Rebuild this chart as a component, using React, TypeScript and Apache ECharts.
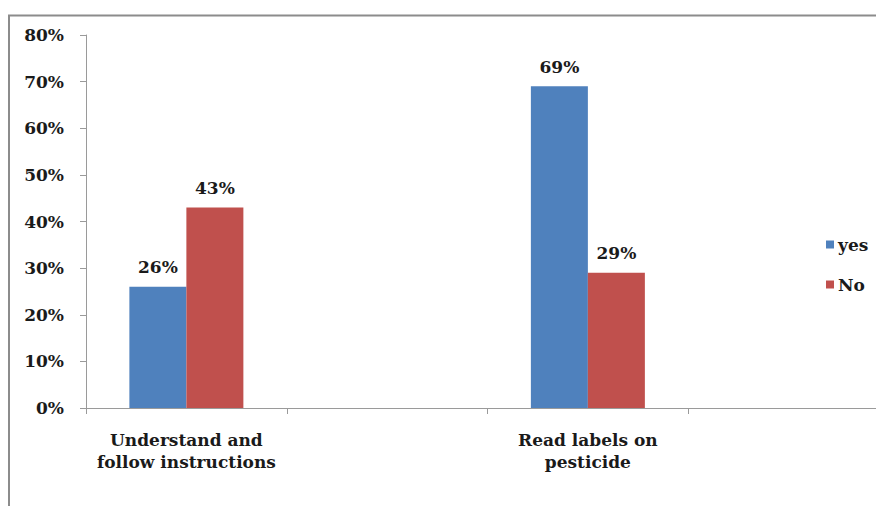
import React, { useEffect, useRef } from "react";
import * as echarts from "echarts";

const categories = ["Understand and\nfollow instructions", "", "Read labels on\npesticide", ""];
const yesValues = [26, null, 69, null];
const noValues = [43, null, 29, null];
const seriesNames = ["yes", "No"];
const yTicks = { min: 0, max: 80, interval: 10 };

const FONT = "DejaVu Serif";

export default function App() {
  const ref = useRef<HTMLDivElement>(null);
  useEffect(() => {
    if (!ref.current) return;
    const chart = echarts.init(ref.current, null, { renderer: "svg" });
    const labelStyle = {
      show: true,
      position: "top" as const,
      distance: 11,
      formatter: (p: any) => p.value + "%",
      fontFamily: FONT,
      fontWeight: "bold" as const,
      fontSize: 17,
      color: "#1a1a1a",
    };
    chart.setOption({
      animation: false,
      backgroundColor: "#ffffff",
      textStyle: { fontFamily: FONT, fontWeight: "bold" },
      grid: { left: 86, top: 35, bottom: 98, right: -13, containLabel: false, outerBoundsMode: "none" },
      legend: {
        orient: "vertical",
        left: 821,
        top: 231,
        itemWidth: 8,
        itemHeight: 8,
        itemGap: 23,
        icon: "rect",
        data: seriesNames,
        textStyle: { fontFamily: FONT, fontWeight: "bold", fontSize: 17, color: "#1a1a1a", padding: [0, 0, 0, -1] },
      },
      xAxis: {
        type: "category",
        data: categories,
        axisLine: { lineStyle: { color: "#9a9a9a", width: 1 } },
        axisTick: { show: true, length: 6, lineStyle: { color: "#9a9a9a" } },
        axisLabel: {
          fontFamily: FONT,
          fontWeight: "bold",
          fontSize: 17,
          color: "#1a1a1a",
          lineHeight: 22,
          margin: 21,
          interval: 0,
        },
      },
      yAxis: {
        type: "value",
        min: yTicks.min,
        max: yTicks.max,
        interval: yTicks.interval,
        axisLine: { show: true, lineStyle: { color: "#9a9a9a", width: 1 } },
        axisTick: { show: true, length: 6, lineStyle: { color: "#9a9a9a" } },
        splitLine: { show: false },
        axisLabel: {
          formatter: "{value}%",
          fontFamily: FONT,
          fontWeight: "bold",
          fontSize: 17,
          color: "#1a1a1a",
          margin: 22,
        },
      },
      series: [
        {
          name: seriesNames[0],
          type: "bar",
          data: yesValues,
          barWidth: 57,
          barGap: "0%",
          itemStyle: { color: "#4f81bd" },
          label: labelStyle,
        },
        {
          name: seriesNames[1],
          type: "bar",
          data: noValues,
          barWidth: 57,
          barGap: "0%",
          itemStyle: { color: "#c0504d" },
          label: labelStyle,
        },
      ],
      graphic: [
        {
          type: "polyline",
          shape: { points: [[9, 506], [9, 15.5], [876, 15.5]] },
          style: { stroke: "#8c8c8c", lineWidth: 2, fill: "none" },
          silent: true,
        },
      ],
    });
    return () => chart.dispose();
  }, []);
  return (
    <div
      ref={ref}
      style={{ position: "fixed", left: 0, top: 0, width: 876, height: 506 }}
    />
  );
}
